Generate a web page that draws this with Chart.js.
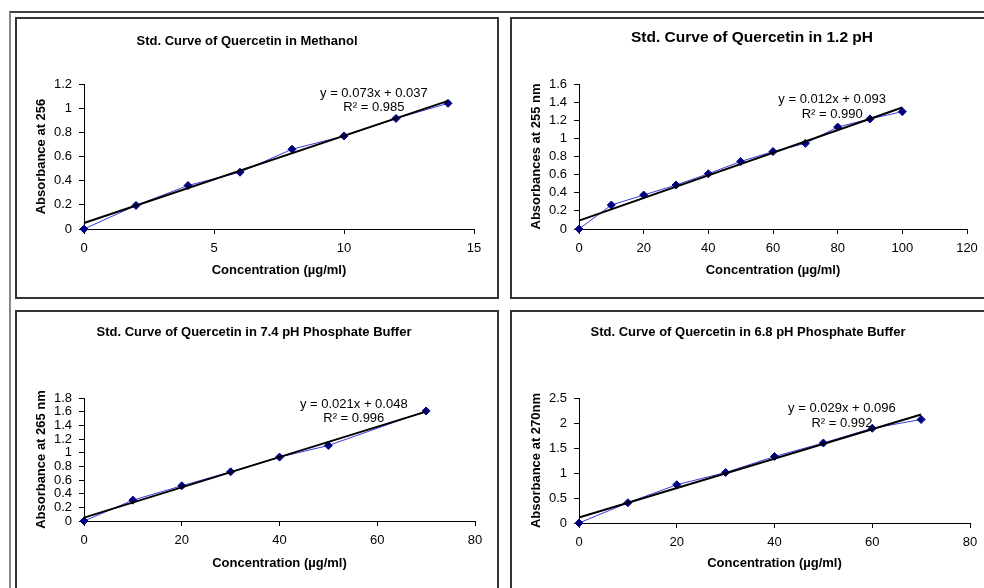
<!DOCTYPE html>
<html>
<head>
<meta charset="utf-8">
<script src="https://cdn.jsdelivr.net/npm/chart.js@4.4.1/dist/chart.umd.min.js"></script>
<style>
body{margin:0;width:984px;height:588px;overflow:hidden;background:#fff;position:relative;}
#frame{position:absolute;left:9px;top:11px;width:1000px;height:600px;border-top:2px solid #444;border-left:2px solid #888;}
.panel{position:absolute;box-sizing:border-box;border:2px solid #333;background:#fff;width:484px;height:282px;}
.panel canvas{display:block;}
</style>
</head>
<body>
<div id="frame"></div>
<div class="panel" style="left:15px;top:17px"><canvas id="c1" width="480" height="278"></canvas></div>
<div class="panel" style="left:510px;top:17px"><canvas id="c2" width="480" height="278"></canvas></div>
<div class="panel" style="left:15px;top:310px"><canvas id="c3" width="480" height="278"></canvas></div>
<div class="panel" style="left:510px;top:310px"><canvas id="c4" width="480" height="278"></canvas></div>
<script>
/* DATA */

const xMeth=[0,2,4,6,8,10,12,14];
const yMeth=[0,0.195,0.36,0.47,0.66,0.77,0.915,1.04];
const trendMeth=[0.05,1.06];
const xTicksMeth=[0,5,10,15];
const yTicksMeth=[0,0.2,0.4,0.6,0.8,1,1.2];

const xPh12=[0,10,20,30,40,50,60,70,80,90,100];
const yPh12=[0,0.265,0.375,0.485,0.61,0.745,0.855,0.945,1.125,1.215,1.295];
const trendPh12=[0.093,1.34];
const xTicksPh12=[0,20,40,60,80,100,120];
const yTicksPh12=[0,0.2,0.4,0.6,0.8,1,1.2,1.4,1.6];

const xPh74=[0,10,20,30,40,50,70];
const yPh74=[0,0.305,0.515,0.72,0.935,1.105,1.61];
const trendPh74=[0.05,1.6];
const xTicksPh74=[0,20,40,60,80];
const yTicksPh74=[0,0.2,0.4,0.6,0.8,1,1.2,1.4,1.6,1.8];

const xPh68=[0,10,20,30,40,50,60,70];
const yPh68=[0,0.405,0.765,1.01,1.33,1.6,1.895,2.07];
const trendPh68=[0.11,2.17];
const xTicksPh68=[0,20,40,60,80];
const yTicksPh68=[0,0.5,1,1.5,2,2.5];

const FONT='"Liberation Sans", Arial, sans-serif';
const W=480,H=278;

/* TITLE + EQUATION TEXT */

const panelText={
id:"panelText",
afterDraw(chart,args,o){
const ctx=chart.ctx;
ctx.save();
ctx.fillStyle="#000";
ctx.textAlign="center";
ctx.textBaseline="middle";
ctx.font="bold "+o.titleSize+"px "+FONT;
ctx.fillText(o.title,o.titleAt[0],o.titleAt[1]);
ctx.font="13px "+FONT;
const sx=chart.scales.x,sy=chart.scales.y;
const px=sx.getPixelForValue(o.eqAt[0]);
ctx.fillText(o.eq[0],px,sy.getPixelForValue(o.eqAt[1]));
ctx.fillText(o.eq[1],px,sy.getPixelForValue(o.eqAt[2]));
ctx.restore();
}
};

function axis(ticks,title,fit,pad){
return{
type:"linear",
min:ticks[0],
max:ticks[ticks.length-1],
afterBuildTicks:s=>{s.ticks=ticks.map(v=>({value:v}));},
afterFit:fit,
ticks:{color:"#000",padding:7,autoSkip:false,maxRotation:0,font:{family:FONT,size:13},callback:v=>String(v)},
grid:{drawOnChartArea:false,drawTicks:true,tickLength:5,color:"#000"},
border:{display:true,color:"#000",width:1},
title:{display:true,text:title,color:"#000",font:{family:FONT,size:13,weight:"bold"},padding:pad}
};
}

function makeChart(id,p){

const pts=p.x.map((v,i)=>({x:v,y:p.y[i]}));
const last=p.x.length-1;
const trend=[{x:p.x[0],y:p.trend[0]},{x:p.x[last],y:p.trend[1]}];

return new Chart(document.getElementById(id),{
type:"scatter",
data:{datasets:[
{data:trend,showLine:true,borderColor:"#000",borderWidth:2,pointRadius:0,clip:false},
{data:pts,showLine:true,borderColor:"#3a3ae0",borderWidth:1,pointStyle:"rectRot",pointRadius:4,
pointBackgroundColor:"#000080",pointBorderColor:"#000080",clip:false}
]},
options:{
responsive:false,
animation:false,
events:[],
layout:{padding:{left:0,top:p.area[1],right:W-p.area[2],bottom:0}},
plugins:{
legend:{display:false},
tooltip:{enabled:false},
panelText:{title:p.title,titleSize:p.titleSize,titleAt:p.titleAt,eq:p.eq,eqAt:p.eqAt}
},
scales:{
x:axis(p.xTicks,"Concentration (µg/ml)",s=>{s.height=H-p.area[3];},{bottom:19}),
y:axis(p.yTicks,p.yTitle,s=>{s.width=p.area[0];},{top:17})
}
},
plugins:[panelText]
});

}

/* CHARTS */

makeChart("c1",{
x:xMeth,y:yMeth,trend:trendMeth,xTicks:xTicksMeth,yTicks:yTicksMeth,
title:"Std. Curve of Quercetin in Methanol",titleSize:13,titleAt:[230,22],
yTitle:"Absorbance at 256",
eq:["y = 0.073x + 0.037","R² = 0.985"],eqAt:[11.15,1.122,1.007],
area:[67,65,457,210]
});

makeChart("c2",{
x:xPh12,y:yPh12,trend:trendPh12,xTicks:xTicksPh12,yTicks:yTicksPh12,
title:"Std. Curve of Quercetin in 1.2 pH",titleSize:15.5,titleAt:[240,19],
yTitle:"Absorbances at 255 nm",
eq:["y = 0.012x + 0.093","R² = 0.990"],eqAt:[78.3,1.427,1.262],
area:[67,65,455,210]
});

makeChart("c3",{
x:xPh74,y:yPh74,trend:trendPh74,xTicks:xTicksPh74,yTicks:yTicksPh74,
title:"Std. Curve of Quercetin in 7.4 pH Phosphate Buffer",titleSize:13,titleAt:[237,20],
yTitle:"Absorbance at 265 nm",
eq:["y = 0.021x + 0.048","R² = 0.996"],eqAt:[55.2,1.704,1.5],
area:[67,86,458,209]
});

makeChart("c4",{
x:xPh68,y:yPh68,trend:trendPh68,xTicks:xTicksPh68,yTicks:yTicksPh68,
title:"Std. Curve of Quercetin in 6.8 pH Phosphate Buffer",titleSize:13,titleAt:[236,20],
yTitle:"Absorbance at 270nm",
eq:["y = 0.029x + 0.096","R² = 0.992"],eqAt:[53.8,2.288,2.0],
area:[67,86,458,211]
});
</script>
</body>
</html>
